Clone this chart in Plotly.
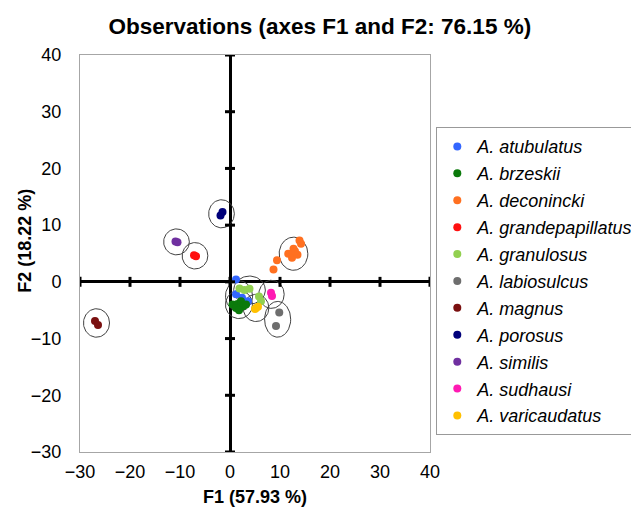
import numpy as np
import plotly.graph_objects as go

# ---- data ----
species = ["A. atubulatus", "A. brzeskii", "A. deconincki", "A. grandepapillatus",
           "A. granulosus", "A. labiosulcus", "A. magnus", "A. porosus",
           "A. similis", "A. sudhausi", "A. varicaudatus"]
colors = ["#3366FF", "#0B7A0B", "#FF7020", "#FF1010", "#92D050", "#6E6E6E",
          "#7A1010", "#00007A", "#7030A0", "#FF1AB3", "#FFC000"]

atubulatus_f1 = [1.2, 1.2, 2.4, 3.6]
atubulatus_f2 = [0.4, -2.2, -2.8, -3.4]
brzeskii_f1 = [0.5, 1.5, 2.2, 2.6, 1.2, 3.2, 1.8]
brzeskii_f2 = [-4.0, -3.9, -3.4, -4.3, -4.6, -4.0, -5.0]
deconincki_f1 = [13.9, 14.2, 12.7, 11.65, 12.4, 13.5, 13.0, 9.4, 8.7]
deconincki_f2 = [7.3, 6.7, 5.85, 4.96, 4.25, 4.8, 5.4, 3.8, 2.2]
grandepapillatus_f1 = [-7.2, -6.8]
grandepapillatus_f2 = [4.7, 4.5]
granulosus_f1 = [1.9, 2.9, 3.9, 6.2, 5.8]
granulosus_f2 = [-1.15, -1.45, -1.2, -3.4, -2.6]
labiosulcus_f1 = [9.85, 9.2]
labiosulcus_f2 = [-5.4, -7.8]
magnus_f1 = [-27.0, -26.4]
magnus_f2 = [-6.9, -7.6]
porosus_f1 = [-1.9, -1.5]
porosus_f2 = [11.7, 12.3]
similis_f1 = [-10.9, -10.5]
similis_f2 = [7.1, 7.0]
sudhausi_f1 = [8.2, 8.4]
sudhausi_f2 = [-1.9, -2.5]
varicaudatus_f1 = [5.2, 5.6, 5.0]
varicaudatus_f2 = [-4.6, -4.4, -4.8]

f1_values = [atubulatus_f1, brzeskii_f1, deconincki_f1, grandepapillatus_f1, granulosus_f1,
             labiosulcus_f1, magnus_f1, porosus_f1, similis_f1, sudhausi_f1, varicaudatus_f1]
f2_values = [atubulatus_f2, brzeskii_f2, deconincki_f2, grandepapillatus_f2, granulosus_f2,
             labiosulcus_f2, magnus_f2, porosus_f2, similis_f2, sudhausi_f2, varicaudatus_f2]

x_ticks = [-30, -20, -10, 0, 10, 20, 30, 40]
y_ticks = [-30, -20, -10, 0, 10, 20, 30, 40]

title_text = "Observations (axes F1 and F2: 76.15 %)"
x_title = "F1 (57.93 %)"
y_title = "F2 (18.22 %)"

FONT = "Liberation Sans, Arial, sans-serif"

fig = go.Figure()


def mad(a):
    return np.median(np.abs(a - np.median(a)))


# confidence circles around each group (derived from group spread)
theta = np.linspace(0, 2 * np.pi, 90)
for xs, ys in zip(f1_values, f2_values):
    xs = np.array(xs); ys = np.array(ys)
    cx, cy = np.median(xs), np.median(ys)
    rx = 2.5 + 0.35 * mad(xs)
    ry = 2.25 + 0.75 * mad(ys)
    fig.add_trace(go.Scatter(x=cx + rx * np.cos(theta), y=cy + ry * np.sin(theta),
                             mode="lines", line=dict(color="#404040", width=1),
                             showlegend=False, hoverinfo="skip"))

for i, (name, col, xs, ys) in enumerate(zip(species, colors, f1_values, f2_values)):
    fig.add_trace(go.Scatter(x=xs, y=ys, mode="markers", name="<i>" + name + "</i>",
                             legendgroup=str(i),
                             marker=dict(color=col, size=8, line=dict(width=0))))

shapes = []
for t in x_ticks:
    shapes.append(dict(type="line", xref="x", yref="y", x0=t, x1=t,
                       ysizemode="pixel", yanchor=0, y0=-5, y1=5,
                       line=dict(color="black", width=3)))
for t in y_ticks:
    shapes.append(dict(type="line", xref="x", yref="y", y0=t, y1=t,
                       xsizemode="pixel", xanchor=0, x0=-5, x1=5,
                       line=dict(color="black", width=3)))

fig.update_layout(
    width=639, height=510,
    margin=dict(l=72, r=217, t=47, b=66, autoexpand=False),
    paper_bgcolor="white", plot_bgcolor="white",
    font=dict(family=FONT, size=18, color="black"),
    title=dict(text="<b>" + title_text + "</b>", x=0.488, xref="container", xanchor="center",
               y=0.965, yref="container", yanchor="middle",
               font=dict(family=FONT, size=22.5, color="black")),
    xaxis=dict(range=[-30, 40], tickvals=x_ticks, showgrid=False,
               zeroline=True, zerolinecolor="black", zerolinewidth=3,
               showline=True, linecolor="#A6A6A6", linewidth=1, mirror=True,
               ticks="", ticklabelstandoff=3,
               title=dict(text="<b>" + x_title + "</b>", standoff=9,
                          font=dict(family=FONT, size=18))),
    yaxis=dict(range=[-30, 40], tickvals=y_ticks, showgrid=False,
               zeroline=True, zerolinecolor="black", zerolinewidth=3,
               showline=True, linecolor="#A6A6A6", linewidth=1, mirror=True,
               ticks="", ticklabelstandoff=14),
    annotations=[dict(text="<b>" + y_title + "</b>", textangle=-90,
                      xref="paper", yref="paper", x=0, y=0.531,
                      xanchor="center", yanchor="middle", xshift=-54.5,
                      showarrow=False, font=dict(family=FONT, size=18))],
    legend=dict(x=1.018, y=0.818, xanchor="left", yanchor="top",
                bordercolor="#999999", borderwidth=1, bgcolor="white",
                font=dict(family=FONT, size=18), tracegroupgap=0.5,
                itemwidth=30),
    shapes=shapes,
    showlegend=True,
)

fig.write_html("out.html")
